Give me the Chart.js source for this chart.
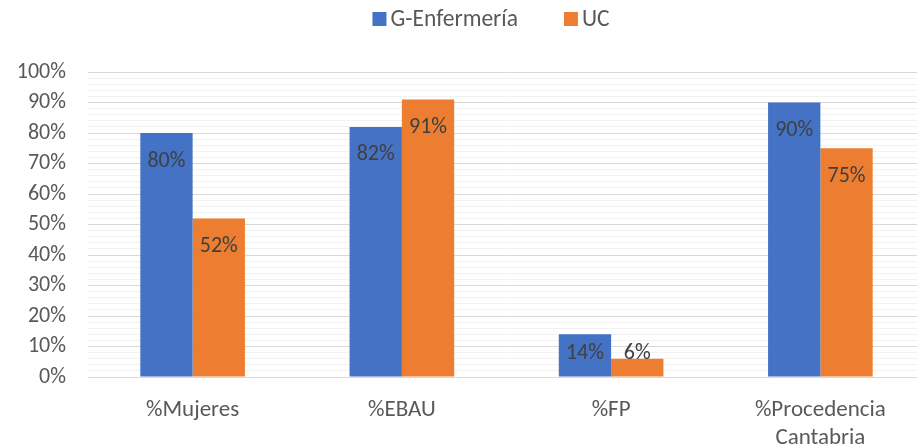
<!DOCTYPE html>
<html><head><meta charset="utf-8">
<script src="https://cdn.jsdelivr.net/npm/chart.js@4"></script>
<style>html,body{margin:0;padding:0;overflow:hidden;background:#fff}#w{width:925px;height:448px;position:relative}</style>
</head><body><div id="w"><canvas id="c"></canvas></div>
<script>
const categories = ["%Mujeres", "%EBAU", "%FP", ["%Procedencia", "Cantabria"]];
const seriesNames = ["G-Enfermería", "UC"];
const gEnfermeria = [80, 82, 14, 90];
const uc = [52, 91, 6, 75];
const yTicks = [0, 10, 20, 30, 40, 50, 60, 70, 80, 90, 100];

const FONT = "Carlito, Lato, 'Liberation Sans', sans-serif";

const labelPlugin = {
  id: 'inlabels',
  afterDatasetsDraw(chart) {
    const ctx = chart.ctx;
    const base = chart.scales.y.getPixelForValue(0);
    ctx.save();
    ctx.font = "22px " + FONT;
    ctx.fillStyle = "#404040";
    ctx.textAlign = "center";
    ctx.textBaseline = "middle";
    chart.data.datasets.forEach((ds, i) => {
      chart.getDatasetMeta(i).data.forEach((bar, j) => {
        const y = Math.min(bar.y + 28, base - 24);
        ctx.fillText(ds.data[j] + "%", bar.x, y);
      });
    });
    ctx.restore();
  }
};

const legendPlugin = {
  id: 'customLegend',
  afterDraw(chart) {
    const ctx = chart.ctx;
    ctx.save();
    ctx.font = "23.5px " + FONT;
    ctx.textBaseline = "middle";
    ctx.textAlign = "left";
    const box = 14, gap = 4, itemGap = 46, cy = 19;
    const widths = chart.data.datasets.map(ds => box + gap + ctx.measureText(ds.label).width);
    const total = widths.reduce((a, b) => a + b, 0) + itemGap * (widths.length - 1);
    let x = 491 - total / 2;
    chart.data.datasets.forEach((ds, i) => {
      ctx.fillStyle = ds.backgroundColor;
      ctx.fillRect(x, cy - box / 2, box, box);
      ctx.fillStyle = '#595959';
      ctx.fillText(ds.label, x + box + gap, cy + 1);
      x += widths[i] + itemGap;
    });
    ctx.restore();
  }
};

new Chart(document.getElementById('c'), {
  type: 'bar',
  data: {
    labels: categories,
    datasets: [
      { label: seriesNames[0], data: gEnfermeria, backgroundColor: '#4472C4' },
      { label: seriesNames[1], data: uc, backgroundColor: '#ED7D31' }
    ]
  },
  options: {
    responsive: true,
    maintainAspectRatio: false,
    animation: false,
    layout: { padding: { top: 72, right: 0, left: 0, bottom: 0 } },
    datasets: { bar: { barPercentage: 1, categoryPercentage: 0.5 } },
    plugins: {
      legend: { display: false },
      tooltip: { enabled: false }
    },
    scales: {
      x: {
        grid: { display: false, drawTicks: false },
        border: { display: true, color: '#d9d9d9', width: 1 },
        ticks: { font: { family: FONT, size: 23, lineHeight: 1.22 }, color: '#595959', padding: 19, maxRotation: 0 },
        afterFit(s) { s.height = 71; }
      },
      y: {
        min: 0, max: 100,
        border: { display: false },
        grid: {
          drawTicks: false,
          color: (c) => (c.tick && c.tick.value % 10 === 0) ? '#d9d9d9' : '#f2f2f2',
          lineWidth: 1
        },
        ticks: {
          stepSize: 2,
          autoSkip: false,
          padding: 22,
          font: { family: FONT, size: 22 },
          color: '#595959',
          callback: (v) => yTicks.includes(v) ? v + '%' : ''
        },
        afterFit(s) { s.width = 88; }
      }
    }
  },
  plugins: [labelPlugin, legendPlugin]
});
</script></body></html>
